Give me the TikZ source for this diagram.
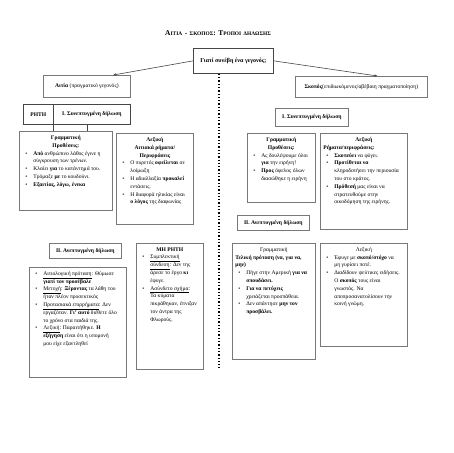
\documentclass[tikz,border=0pt]{standalone}
\usepackage{fontspec}
\setmainfont{Liberation Serif}
\usetikzlibrary{arrows.meta}
\definecolor{bxgray}{RGB}{120,120,120}
\definecolor{dkgray}{RGB}{70,70,70}
\newcommand\fs{\fontsize{5.6}{7.8}\selectfont}
\newcommand\nl{\hfil\break}
\newcommand\itm[1]{\par\noindent\hangindent=11pt\hangafter=1\hbox to 11pt{\hskip3pt\textbullet\hss}#1\par}
\newcommand\tb[6]{\node[bx] (#1) at (#2,#3) {\parbox[t][\dimexpr#5pt-8pt\relax][t]{\dimexpr#4pt-6pt\relax}{\fs\raggedright #6}};}
\newcommand\ctit[1]{{\centering\bfseries #1\par}}
\newcommand\SC[2]{{\fontsize{7.4}{9}\selectfont #1}{\fontsize{5.4}{9}\selectfont #2}}
\tikzset{
  bx/.style={draw=bxgray, line width=0.7pt, inner xsep=3pt, inner ysep=4pt, anchor=north west},
  sbx/.style={draw=bxgray, line width=0.7pt, inner sep=0pt, anchor=north west, font=\fs},
  conn/.style={draw=dkgray, line width=0.6pt},
  arr/.style={conn, -{Stealth[length=3pt,width=2.6pt]}},
  dotline/.style={line width=1.3pt, dotted, draw=black}
}
\begin{document}
\begin{tikzpicture}[x=1pt,y=-1pt]
\useasboundingbox (0,0) rectangle (453,453);
\node[font=\bfseries] (title) at (218,33) {\SC{Α}{ΙΤΙΑ} \SC{-}{} \SC{}{ΣΚΟΠΟΣ}\SC{:}{} \SC{Τ}{ΡΟΠΟΙ} \SC{}{ΔΗΛΩΣΗΣ}};
\node[sbx, draw=dkgray, minimum width=80pt, minimum height=25pt, font=\fontsize{6}{7}\selectfont\bfseries] (top) at (193,48) {Γιατί συνέβη ένα γεγονός;};
\node[sbx, minimum width=87pt, minimum height=22pt] (aitia) at (43,75) {\textbf{Αιτία} (πραγματικό γεγονός)};
\node[sbx, minimum width=132pt, minimum height=21pt] (skopos) at (295,76) {\textbf{Σκοπός}(επιδιωκόμενος/αβέβαιη πραγματοποίηση)};
\draw[arr] (top.west) -- ([xshift=26.5pt]aitia.north);
\draw[arr] (top.east) -- ([xshift=16pt]skopos.north);
\coordinate (dend) at (219,368);
\draw[dotline] (top.south -| dend) -- (dend);
% left side
\node[sbx, draw=dkgray, minimum width=30pt, minimum height=20pt, font=\fs\bfseries] (rhthA) at (23,104) {ΡΗΤΗ};
\node[sbx, draw=dkgray, minimum width=77pt, minimum height=20pt, font=\fs\bfseries] (rhthB) at (53,104) {Ι. Συνεπτυγμένη δήλωση};
\tb{gramL}{19}{131}{93}{79}{\ctit{Γραμματική\\Προθέσεις:}
\itm{\textbf{Από} ανθρώπινο λάθος έγινε η\nl σύγκρουση των τρένων.}
\itm{Κλαίει \textbf{για} το κατάντημά του.}
\itm{Τρόμαξε \textbf{με} το κουδούνι.}
\itm{\textbf{Εξαιτίας, λόγω, ένεκα}}}
\tb{lexL}{116}{133}{77}{91}{\ctit{Λεξική\\Αιτιακά ρήματα/\\Περιφράσεις}
\itm{Ο πυρετός \textbf{οφείλεται} σε\nl λοίμωξη}
\itm{Η αδιαλλαξία \textbf{προκαλεί}\nl εντάσεις.}
\itm{Η διαφορά ηλικίας είναι\nl\textbf{ο λόγος} της διαφωνίας}}
\coordinate (c1) at (rhthA.south east);
\coordinate (c2) at ([xshift=-4.5pt]rhthB.south);
\draw[conn] (c1) -- (c1 |- gramL.north);
\draw[conn] (c2) -- (c2 |- gramL.north);
\node[sbx, minimum width=72pt, minimum height=15pt, font=\fs\bfseries] (IIL) at (49,243) {ΙΙ. Ανεπτυγμένη δήλωση};
\tb{boxL}{29}{267}{97}{110}{%
\itm{\underline{Αιτιολογική πρόταση}: Θύμωσε\nl\textbf{γιατί τον προσέβαλε}}
\itm{\underline{Μετοχή}: \textbf{Ξέροντας} τα λάθη του\nl ήταν πλέον προσεκτικός}
\itm{\underline{Προτασιακά επιρρήματα}: Δεν\nl εργαζόταν. \textbf{Γι' αυτό} διέθετε όλο\nl το χρόνο στα παιδιά της.}
\itm{\underline{Λεξική}: Παραιτήθηκε. \textbf{Η}\nl\textbf{εξήγηση} είναι ότι η υπομονή\nl μου είχε εξαντληθεί}}
\tb{mhrhth}{136}{243}{67}{126}{\ctit{ΜΗ ΡΗΤΗ}
\itm{\underline{Συμπλεκτική}\nl\underline{σύνδεση}: Δεν της\nl άρεσε το έργο \textbf{κι}\nl έφυγε.}
\itm{\underline{Ασύνδετο σχήμα}:\nl Τα κύματα\nl πικράθηκαν, έπνιξαν\nl τον άντρα της\nl Φλωρούς.}}
% right side
\node[sbx, minimum width=73pt, minimum height=18pt, font=\fs\bfseries] (IR) at (275,108) {Ι. Συνεπτυγμένη δήλωση};
\tb{gramR}{247}{133}{68}{69}{\ctit{Γραμματική\\Προθέσεις:}
\itm{Ας δουλέψουμε όλοι\nl\textbf{για} την ειρήνη!}
\itm{\textbf{Προς} όφελος όλων\nl διασώθηκε η ειρήνη}}
\tb{lexR}{320}{133}{87}{96}{\ctit{Λεξική}
\textbf{Ρήματα/περιφράσεις:}\par
\itm{\textbf{Σκοπεύει} να φύγει.}
\itm{\textbf{Προτίθεται να}\nl κληροδοτήσει την περιουσία\nl του στο κράτος.}
\itm{\textbf{Πρόθεσή} μας είναι να\nl στρατευθούμε στην\nl οικοδόμηση της ειρήνης.}}
\node[sbx, minimum width=72pt, minimum height=15pt, font=\fs\bfseries] (IIR) at (237,215) {ΙΙ. Ανεπτυγμένη δήλωση};
\tb{gramR2}{232}{243}{83}{116}{{\centering Γραμματική\par}
\textbf{Τελική πρόταση (να, για να,}\nl\textbf{μην)}\par
\itm{Πήγε στην Αμερική \textbf{για να}\nl\textbf{σπουδάσει.}}
\itm{\textbf{Για να πετύχεις}\nl χρειάζεται προσπάθεια.}
\itm{Δεν απάντησε \textbf{μην τον}\nl\textbf{προσβάλει.}}}
\tb{lexR2}{320}{243}{87}{103}{{\centering Λεξική\par}
\itm{Έφυγε με \textbf{σκοπό/στόχο} να\nl μη γυρίσει ποτέ.}
\itm{Διαδίδουν ψεύτικες ειδήσεις.\nl Ο \textbf{σκοπός} τους είναι\nl γνωστός. Να\nl αποπροσανατολίσουν την\nl κοινή γνώμη.}}
\end{tikzpicture}
\end{document}
